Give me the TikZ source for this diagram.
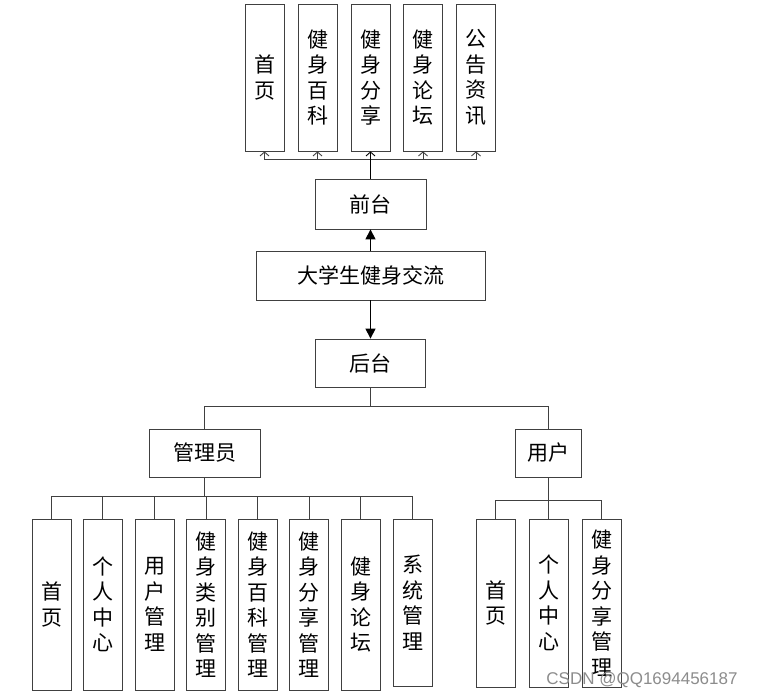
\documentclass[tikz,border=0pt]{standalone}
\usepackage{fontspec}
\newfontfamily\cjk{Noto Sans CJK SC}
\newfontfamily\wmfont{Liberation Sans}
\usetikzlibrary{arrows.meta}
\usetikzlibrary{calc,positioning}

\tikzset{
    box/.style = {draw=black!75, line width=0.8pt, inner sep=0pt, align=center,
                  font=\cjk\fontsize{21}{25.5}\selectfont},
    tallbox/.style = {box, minimum width=39pt, minimum height=#1},
    widebox/.style = {box, minimum width=#1, minimum height=48pt},
    link/.style = {line width=0.8pt, draw=black!75},
    barb/.style = {-{Straight Barb[length=4pt, width=9pt, line width=0.9pt]}},
}

\begin{document}
\begin{tikzpicture}[x=1pt, y=-1pt, >=Stealth]

    \useasboundingbox (0,0) rectangle (758,698);

    % front end
    \node[tallbox=147pt] (t1) at (264.5,77.5) {首\\页};
    \node[tallbox=147pt] (t2) at (317.5,77.5) {健\\身\\百\\科};
    \node[tallbox=147pt] (t3) at (370.5,77.5) {健\\身\\分\\享};
    \node[tallbox=147pt] (t4) at (423,77.5) {健\\身\\论\\坛};
    \node[tallbox=147pt] (t5) at (476,77.5) {公\\告\\资\\讯};

    \node[widebox=111pt, minimum height=50pt] (qt) at (370.5,204) {前台};
    \node[widebox=229pt, minimum height=49pt] (sys) at (370.5,275.5) {大学生健身交流};
    \node[widebox=110pt] (ht) at (370.5,363) {后台};

    \draw[line width=1.4pt] (qt.north) -- ++(0,-19) coordinate (tb);
    \foreach \n in {t1,t2,t4,t5}
        \draw[link, barb] (tb) -| (\n.south);
    \draw[line width=1.4pt, barb] (tb) -- (t3.south);

    \draw[line width=1.2pt, -{Triangle[length=10pt, width=10pt]}] (sys.north) -- (qt.south);
    \draw[line width=1.2pt, -{Triangle[length=10pt, width=10pt]}] (sys.south) -- (ht.north);

    % back end
    \node[widebox=111pt] (gly) at (204.5,453) {管理员};
    \node[widebox=66pt] (yh) at (548,453) {用户};

    \draw[link] (ht.south) -- ++(0,19) coordinate (hb);
    \draw[link] (hb) -| (gly.north);
    \draw[link] (hb) -| (yh.north);

    \node[tallbox=171pt] (a1) at (51.5,604.5) {首\\页};
    \node[tallbox=171pt] (a2) at (102.5,604.5) {个\\人\\中\\心};
    \node[tallbox=171pt] (a3) at (154.5,604.5) {用\\户\\管\\理};
    \node[tallbox=171pt] (a4) at (206,604.5) {健\\身\\类\\别\\管\\理};
    \node[tallbox=171pt] (a5) at (257.5,604.5) {健\\身\\百\\科\\管\\理};
    \node[tallbox=171pt] (a6) at (309,604.5) {健\\身\\分\\享\\管\\理};
    \node[tallbox=171pt] (a7) at (360.5,604.5) {健\\身\\论\\坛};
    \node[tallbox=167pt] (a8) at (412.5,602.5) {系\\统\\管\\理};

    \draw[link] (gly.south) -- ++(0,19) coordinate (gb);
    \foreach \n in {a1,a2,a3,a4,a5,a6,a7,a8}
        \draw[link] (gb) -| (\n.north);

    \node[tallbox=168pt] (u1) at (495.5,603) {首\\页};
    \node[tallbox=168pt] (u2) at (548.5,603) {个\\人\\中\\心};
    \node[tallbox=168pt] (u3) at (601.5,603) {健\\身\\分\\享\\管\\理};

    \draw[link] (yh.south) -- ++(0,23) coordinate (ub);
    \foreach \n in {u1,u2,u3}
        \draw[link] (ub) -| (\n.north);

    \node[font=\wmfont\fontsize{17}{17}\selectfont, text=black!45, inner sep=0pt] (wm) at (642,680) {CSDN @QQ1694456187};

\end{tikzpicture}
\end{document}
